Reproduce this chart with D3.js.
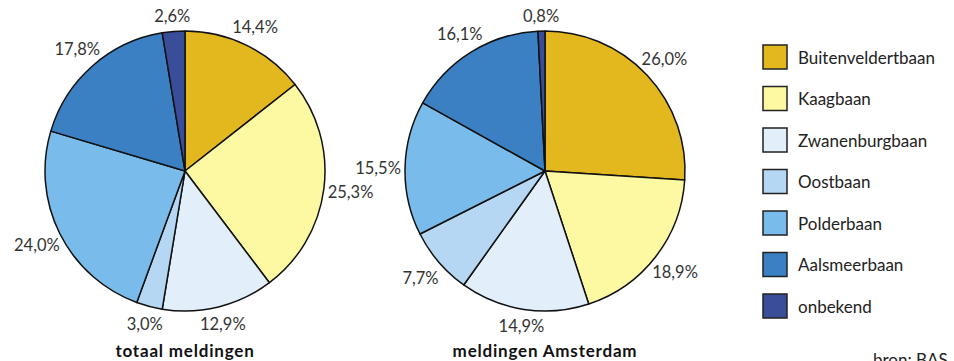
<!DOCTYPE html>
<html><head><meta charset="utf-8">
<script src="https://cdn.jsdelivr.net/npm/d3@7"></script>
<style>
body{margin:0;background:#fff;}
text{font-family:Lato,"Open Sans",sans-serif;}
</style></head>
<body><svg id="c" width="954" height="361"></svg>
<script>
const categories = ["Buitenveldertbaan","Kaagbaan","Zwanenburgbaan","Oostbaan","Polderbaan","Aalsmeerbaan","onbekend"];
const colors = ["#E3B81F","#FDF8A2","#E2EEFA","#B6D7F3","#79BBEA","#3A80C2","#394D99"];
const totaalMeldingen = [14.4,25.3,12.9,3.0,24.0,17.8,2.6];
const meldingenAmsterdam = [26.0,18.9,14.9,7.7,15.5,16.1,0.8];
const titles = ["totaal meldingen","meldingen Amsterdam"];
const source = "bron: BAS";

const svg = d3.select("#c");
const r = 140;
const pie = d3.pie().sort(null).value(d=>d.v);
const arc = d3.arc().innerRadius(0).outerRadius(r);
const fmt = v => d3.format(".1f")(v).replace(".", ",") + "%";
const color = d3.scaleOrdinal().domain(categories).range(colors);

function drawPie(vals, cx, cy, title){
  const g = svg.append("g").attr("transform",`translate(${cx},${cy})`);
  const data = pie(vals.map((v,i)=>({v, c:categories[i]})));
  g.selectAll("path").data(data).join("path")
    .attr("d", arc).attr("fill", d=>color(d.data.c))
    .attr("stroke","#111").attr("stroke-width",1.5).attr("stroke-linejoin","round");
  g.selectAll("text.lab").data(data).join("text").attr("class","lab")
    .attr("transform", d=>{
      const a = (d.startAngle+d.endAngle)/2;
      const R = 155 + 12*Math.abs(Math.sin(a));
      return `translate(${R*Math.sin(a)},${-R*Math.cos(a)})`;
    })
    .attr("text-anchor","middle").attr("dominant-baseline","central")
    .attr("font-size",16.5).attr("fill","#333").text(d=>fmt(d.data.v));
  g.append("text").attr("x",0).attr("y",186).attr("text-anchor","middle")
    .attr("font-size",17).attr("font-weight","bold").attr("letter-spacing",0.8)
    .attr("fill","#111").text(title);
}
drawPie(totaalMeldingen,185,171,titles[0]);
drawPie(meldingenAmsterdam,545,171,titles[1]);

const y = d3.scalePoint().domain(categories).range([57,306]);
const lg = svg.append("g");
const items = lg.selectAll("g").data(categories).join("g")
  .attr("transform", d=>`translate(763,${y(d)})`);
items.append("rect").attr("x",0).attr("y",-12).attr("width",24).attr("height",24)
  .attr("fill", d=>color(d)).attr("stroke","#222").attr("stroke-width",1.5);
items.append("text").attr("x",35).attr("y",0).attr("dominant-baseline","central")
  .attr("font-size",17).attr("fill","#222").text(d=>d);

svg.append("text").attr("x",873).attr("y",366).attr("font-size",17).attr("fill","#222").text(source);
</script></body></html>
